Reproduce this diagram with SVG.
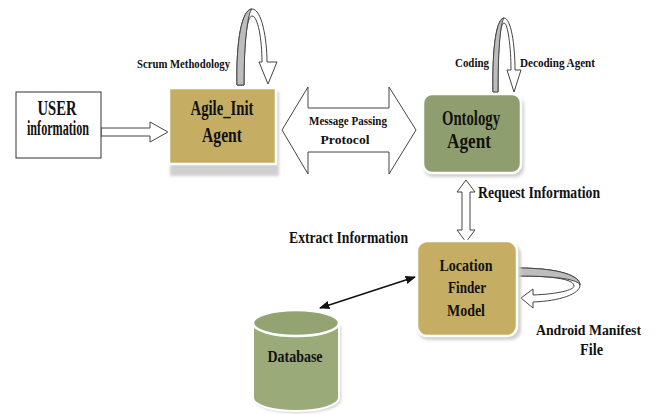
<svg xmlns="http://www.w3.org/2000/svg" width="655" height="414" viewBox="0 0 655 414">
<defs>
<style>
text{font-family:"Liberation Serif","Times New Roman","DejaVu Serif",serif;font-weight:bold;fill:#111;}
.big{font-size:20px;}
.mid{font-size:16px;}
.sm{font-size:13.5px;}
.outline{fill:#fff;stroke:#444;stroke-width:1;}
.band{fill:#bdbdbd;stroke:#444;stroke-width:1;}
.shadow{fill:#cfcfcf;}
.tan{fill:#c5ae64;stroke:#fff;stroke-width:2.5;}
.green{fill:#8f9e6e;stroke:#fff;stroke-width:2.5;}
</style>
<marker id="ah" viewBox="0 0 10 10" refX="9" refY="5" markerWidth="7" markerHeight="7" orient="auto-start-reverse">
<path d="M0,1 L10,5 L0,9 Z" fill="#111"/>
</marker>
<filter id="blur" x="-10%" y="-10%" width="120%" height="130%"><feGaussianBlur stdDeviation="1.5"/></filter>
</defs>
<rect width="655" height="414" fill="#fff"/>

<g id="connectors">
<path class="outline" d="M101,128 L150,128 L150,122 L168,132 L150,142 L150,136 L101,136 Z"/>
<path class="outline" d="M282,130 L308,87 L308,108 L389,108 L389,87 L416,130 L389,174 L389,152 L308,152 L308,174 Z"/>
<path class="outline" d="M466,180 L475,192 L470,192 L470,230 L475,230 L466,242 L457,230 L462,230 L462,192 L457,192 Z"/>
<line x1="320" y1="308" x2="415" y2="277" stroke="#111" stroke-width="1.5" marker-start="url(#ah)" marker-end="url(#ah)"/>
<path class="outline" d="M237,85 C236,40 242,9 252,9 C262,9 267,40 267,62 L277,62 L268,84 L259,62 L262,62 C262,40 258,16 252,16 C247,16 244,40 244,85 Z"/>
<path class="band" d="M237,85 C236,40 242,9 252,9 C248,12 244,40 244,85 Z"/>
<path class="outline" d="M493,92 C492,45 497,18 504,18 C511,18 515,45 515,70 L521,70 L514,92 L507,70 L511,70 C511,48 508,23 504,23 C500,23 498,45 498,92 Z"/>
<path class="band" d="M493,92 C492,45 497,18 504,18 C501,21 498,45 498,92 Z"/>
<path class="outline" d="M518,268 C560,268 580,276 580,285 C580,294 560,301 533,302 L533,308 L521,298 L533,289 L533,295 C558,294 574,290 574,286 C574,280 558,276 518,276 Z"/>
<path class="band" d="M518,268 C560,268 580,276 580,285 C578,280 560,276 518,276 Z"/>
</g>

<g id="user">
<rect x="16" y="92" width="85" height="66" fill="#fff" stroke="#333" stroke-width="1"/>
<text class="big" x="57" y="115" text-anchor="middle" textLength="39" lengthAdjust="spacingAndGlyphs">USER</text>
<text class="big" x="58" y="135" text-anchor="middle" textLength="62" lengthAdjust="spacingAndGlyphs">information</text>
</g>

<g id="agile">
<rect class="shadow" x="170" y="92" width="109" height="84" filter="url(#blur)"/>
<rect class="tan" x="169" y="88" width="107" height="76"/>
<text class="big" x="222" y="115" text-anchor="middle" textLength="63" lengthAdjust="spacingAndGlyphs">Agile_Init</text>
<text class="big" x="222" y="142" text-anchor="middle" textLength="40" lengthAdjust="spacingAndGlyphs">Agent</text>
</g>

<g id="ontology">
<rect class="shadow" x="424" y="97" width="100" height="80" rx="9" filter="url(#blur)"/>
<rect class="green" x="423" y="94" width="98" height="79" rx="9"/>
<text class="big" x="471" y="125" text-anchor="middle" textLength="58" lengthAdjust="spacingAndGlyphs">Ontology</text>
<text class="big" x="469" y="148" text-anchor="middle" textLength="44" lengthAdjust="spacingAndGlyphs">Agent</text>
</g>

<g id="location">
<rect class="shadow" x="418" y="244" width="103" height="96" rx="10" filter="url(#blur)"/>
<rect class="tan" x="417" y="241" width="100" height="95" rx="10"/>
<text class="mid" x="466" y="271" text-anchor="middle" textLength="53" lengthAdjust="spacingAndGlyphs">Location</text>
<text class="mid" x="467" y="293" text-anchor="middle" textLength="38" lengthAdjust="spacingAndGlyphs">Finder</text>
<text class="mid" x="466" y="316" text-anchor="middle" textLength="38" lengthAdjust="spacingAndGlyphs">Model</text>
</g>

<g id="database">
<path d="M255,326 L255,400 A43,13 0 0 0 341,400 L341,326 Z" fill="#cfcfcf" filter="url(#blur)"/>
<path d="M253,323 L253,398 A43,13 0 0 0 339,398 L339,323 Z" fill="#9aaa78" stroke="#fff" stroke-width="2"/>
<ellipse cx="296" cy="323" rx="43" ry="13" fill="#93a372" stroke="#fff" stroke-width="2.5"/>
<text class="mid" x="295" y="362" text-anchor="middle" textLength="55" lengthAdjust="spacingAndGlyphs">Database</text>
</g>

<g id="labels">
<text class="sm" x="137" y="68" textLength="93" lengthAdjust="spacingAndGlyphs">Scrum Methodology</text>
<text class="sm" x="348" y="125" text-anchor="middle" textLength="78" lengthAdjust="spacingAndGlyphs">Message Passing</text>
<text class="sm" x="345" y="144" text-anchor="middle" textLength="49" lengthAdjust="spacingAndGlyphs">Protocol</text>
<text class="sm" x="455" y="67" textLength="34" lengthAdjust="spacingAndGlyphs">Coding</text>
<text class="sm" x="520" y="67" textLength="75" lengthAdjust="spacingAndGlyphs">Decoding Agent</text>
<text class="mid" x="478" y="198" textLength="122" lengthAdjust="spacingAndGlyphs">Request Information</text>
<text class="mid" x="289" y="243" textLength="119" lengthAdjust="spacingAndGlyphs">Extract Information</text>
<text x="536" y="335" font-size="14.5" textLength="105" lengthAdjust="spacingAndGlyphs">Android Manifest</text>
<text class="mid" x="580" y="355" textLength="23" lengthAdjust="spacingAndGlyphs">File</text>
</g>
</svg>
